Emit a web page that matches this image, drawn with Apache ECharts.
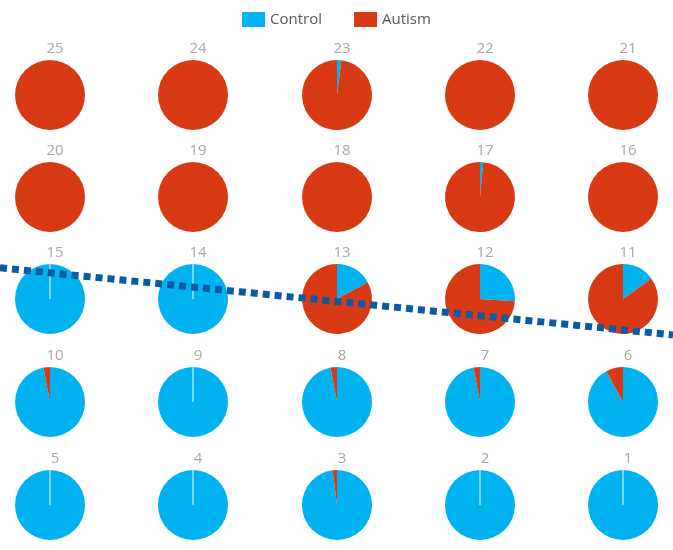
<!DOCTYPE html>
<html style="height: 100%" lang="en">
<head>
    <meta charset="UTF-8">
    <title>Control vs Autism</title>
</head>
<body style="height: 100%; margin: 0; background: #fff">
<div id="main1" style="width: 673px; height: 550px"></div>

<script src="https://cdn.jsdelivr.net/npm/echarts@6/dist/echarts.min.js"></script>
<script type="text/javascript">

    // pie numbers, top-left to bottom-right
    var ids = [25, 24, 23, 22, 21, 20, 19, 18, 17, 16, 15, 14, 13, 12, 11, 10, 9, 8, 7, 6, 5, 4, 3, 2, 1];
    // share of each class (percent)
    var control = [0, 0, 2, 0, 0, 0, 0, 0, 1.5, 0, 100, 100, 17, 26, 15, 97, 100, 97, 97, 92, 100, 100, 98, 100, 100];
    var autism  = [100, 100, 98, 100, 100, 100, 100, 100, 98.5, 100, 0, 0, 83, 74, 85, 3, 0, 3, 3, 8, 0, 0, 2, 0, 0];
    var classes = ['Control', 'Autism'];
    var colors = ['#00b2ef', '#d83a16'];
    // dotted trend line (x 0..1 across the chart, y 0..1 from top)
    var trendX = [0, 1];
    var trendY = [0.487, 0.609];

    var colX = [50, 193, 337, 480, 623];
    var rowY = [95, 197, 299, 402, 505];
    var R = 35;

    var myChart1 = echarts.init(document.getElementById('main1'));

    var series = [];
    var titles = [];
    ids.forEach(function (id, i) {
        var cx = colX[i % 5], cy = rowY[Math.floor(i / 5)];
        // an empty autism slice still leaves a faint seam in the original
        var seam = autism[i] === 0 ? {borderColor: 'rgba(255,255,255,0.55)', borderWidth: 1} : {borderWidth: 0};
        series.push({
            name: 'pie' + id,
            type: 'pie',
            radius: R,
            center: [cx, cy],
            startAngle: 90,
            clockwise: true,
            silent: true,
            label: {show: false},
            labelLine: {show: false},
            data: [
                {name: classes[0], value: control[i], itemStyle: {color: colors[0], borderWidth: 0}},
                {name: classes[1], value: autism[i], itemStyle: Object.assign({color: colors[1]}, seam)}
            ]
        });
        titles.push({
            text: String(id),
            left: cx,
            top: cy - R - 24,
            textAlign: 'center',
            textStyle: {color: '#a8a8a8', fontSize: 15, fontWeight: 'normal', fontFamily: 'Open Sans'}
        });
    });

    series.push({
        type: 'line',
        data: trendX.map(function (x, k) { return [x, trendY[k]]; }),
        symbol: 'none',
        silent: true,
        z: 10,
        lineStyle: {color: '#0a5aa6', width: 7, type: [7, 5]}
    });

    var option1 = {
        backgroundColor: '#fff',
        animation: false,
        title: titles,
        legend: {
            top: 7,
            left: 'center',
            data: classes,
            icon: 'rect',
            itemWidth: 23,
            itemHeight: 15,
            itemGap: 32,
            textStyle: {color: '#595959', fontSize: 15, fontFamily: 'Open Sans'}
        },
        grid: {left: 0, right: 0, top: 0, bottom: 0},
        xAxis: {type: 'value', min: 0, max: 1, show: false},
        yAxis: {type: 'value', min: 0, max: 1, inverse: true, show: false},
        series: series
    };

    myChart1.setOption(option1);

</script>
</body>
</html>
